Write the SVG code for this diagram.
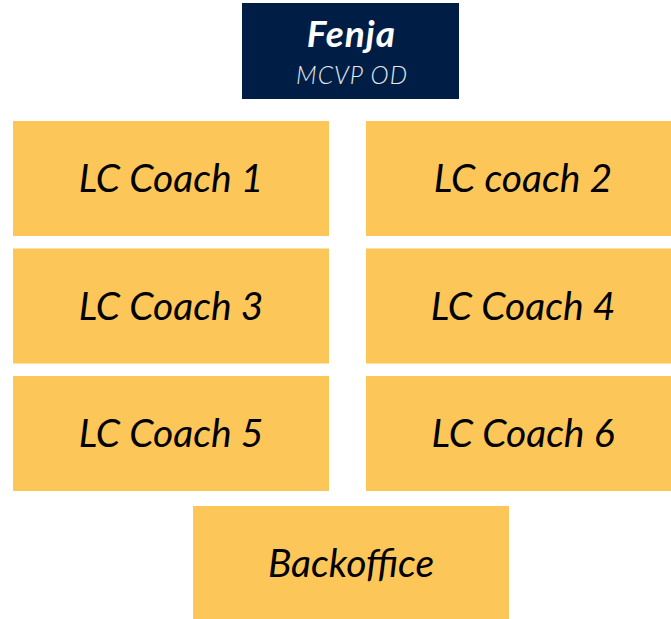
<svg xmlns="http://www.w3.org/2000/svg" width="671" height="619" viewBox="0 0 671 619">
<style>
.box{fill:#FDC659}
.lbl{font-family:Lato,"Liberation Sans",sans-serif;font-style:italic;font-size:39px;fill:#000;text-anchor:middle}
</style>
<rect width="671" height="619" fill="#fff"/>
<g id="fenja">
<rect x="242" y="3" width="217" height="96" fill="#001E45"/>
<text x="351.5" y="46.5" font-family="Lato,'Liberation Sans',sans-serif" font-style="italic" font-weight="bold" font-size="37" letter-spacing="1" fill="#fff" text-anchor="middle">Fenja</text>
<text x="352" y="84" font-family="Lato,'Liberation Sans',sans-serif" font-style="italic" font-weight="300" font-size="24.5" letter-spacing="1" fill="#E6E9EE" text-anchor="middle">MCVP OD</text>
</g>
<g id="coach1"><rect class="box" x="13" y="121" width="316" height="115"/><text class="lbl" x="171" y="192">LC Coach 1</text></g>
<g id="coach2"><rect class="box" x="366" y="121" width="305" height="115"/><text class="lbl" x="523" y="192">LC coach 2</text></g>
<g id="coach3"><rect class="box" x="13" y="248.5" width="316" height="115"/><text class="lbl" x="171" y="319.5">LC Coach 3</text></g>
<g id="coach4"><rect class="box" x="366" y="248.5" width="305" height="115"/><text class="lbl" x="523" y="319.5">LC Coach 4</text></g>
<g id="coach5"><rect class="box" x="13" y="376" width="316" height="115"/><text class="lbl" x="171" y="447">LC Coach 5</text></g>
<g id="coach6"><rect class="box" x="366" y="376" width="305" height="115"/><text class="lbl" x="523" y="447">LC Coach 6</text></g>
<g id="backoffice"><rect class="box" x="193" y="506" width="316" height="113"/><text class="lbl" x="351" y="577">Backoffice</text></g>
<g id="connectors"></g>
</svg>
